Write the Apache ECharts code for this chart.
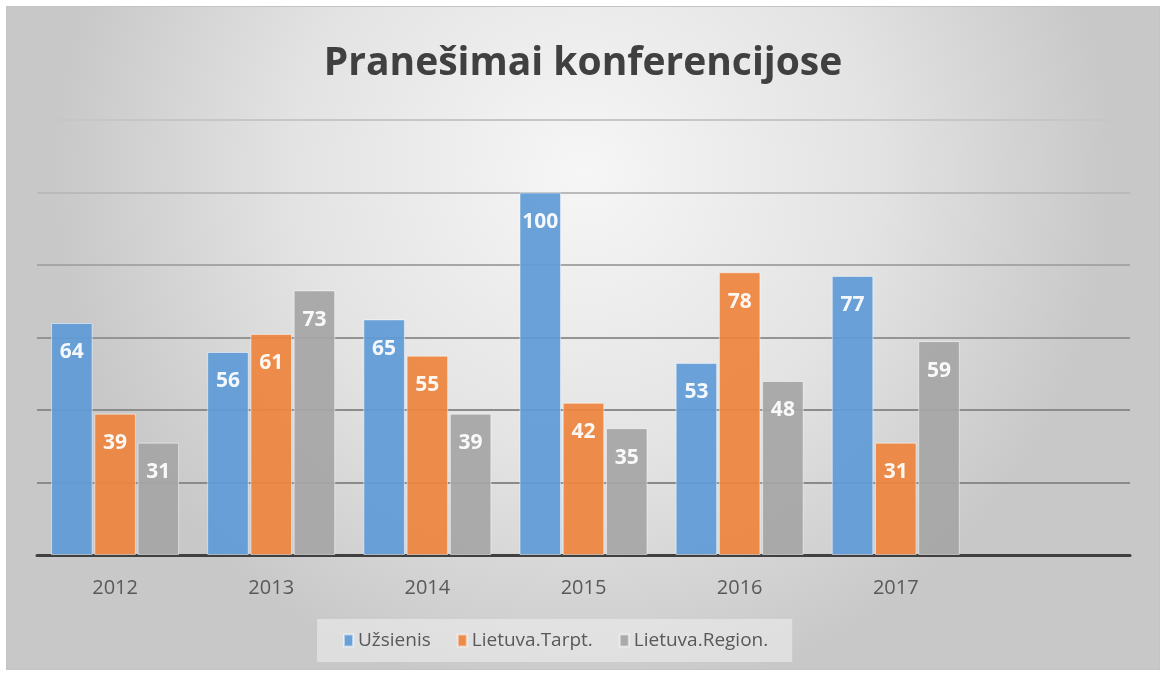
<!DOCTYPE html>
<html>
<head>
<meta charset="utf-8">
<script src="https://cdn.jsdelivr.net/npm/echarts@6/dist/echarts.min.js"></script>
<style>
	html, body { margin: 0; padding: 0; background: #ffffff; }
	#main {
		position: absolute;
		left: 6px;
		top: 6px;
		width: 1154px;
		height: 664px;
		box-sizing: border-box;
		border: 1px solid #c4c4c4;
	}
</style>
</head>
<body>
<div id="main"></div>
<script>
	// metai + tuščia vieta gale
	var years = ['2012', '2013', '2014', '2015', '2016', '2017'];
	var categories = years.concat(['']);

	var uzsienis = [64, 56, 65, 100, 53, 77];
	var lietuvaTarpt = [39, 61, 55, 42, 78, 31];
	var lietuvaRegion = [31, 73, 39, 35, 48, 59];

	var seriesNames = ['Užsienis', 'Lietuva.Tarpt.', 'Lietuva.Region.'];
	var seriesColors = ['#5f9bd6', '#ee8440', '#a6a6a6'];

	var chart = echarts.init(document.getElementById('main'));

	function barSeries(name, data, color) {
		return {
			name : name,
			type : 'bar',
			data : data,
			barGap : '4%',
			barCategoryGap : '18%',
			itemStyle : {
				color : color,
				opacity : 0.93,
				borderColor : 'rgba(255,255,255,0.55)',
				borderWidth : 1
			},
			label : {
				show : true,
				position : 'insideTop',
				distance : 19,
				color : '#ffffff',
				fontWeight : 'bold',
				fontSize : 21,
				fontFamily : 'Open Sans'
			}
		};
	}

	chart.setOption({
		backgroundColor : {
			type : 'radial',
			x : 0.5,
			y : 0.25,
			r : 0.8,
			colorStops : [
				{ offset : 0, color : '#f6f6f6' },
				{ offset : 0.55, color : '#e3e3e3' },
				{ offset : 1, color : '#c8c8c8' }
			]
		},
		title : {
			text : 'Pranešimai konferencijose',
			left : 'center',
			top : 32,
			textStyle : {
				fontFamily : 'Open Sans',
				fontWeight : 'bold',
				fontSize : 39,
				color : '#404040'
			}
		},
		legend : {
			data : seriesNames,
			left : 310,
			top : 612,
			padding : [12, 24, 12, 26],
			backgroundColor : 'rgba(240,240,240,0.55)',
			itemWidth : 9,
			itemHeight : 12,
			itemGap : 26,
			icon : 'rect',
			textStyle : {
				fontFamily : 'Open Sans',
				fontSize : 19,
				color : '#595959'
			}
		},
		grid : {
			left : 30,
			right : 29,
			top : 113,
			bottom : 114,
			containLabel : false
		},
		xAxis : {
			type : 'category',
			data : categories,
			axisLine : {
				lineStyle : { color : '#404040', width : 3 }
			},
			axisTick : { show : false },
			axisLabel : {
				margin : 23,
				fontFamily : 'Open Sans',
				fontSize : 20,
				color : '#595959'
			}
		},
		yAxis : {
			type : 'value',
			min : 0,
			max : 120,
			interval : 20,
			axisLine : { show : false },
			axisTick : { show : false },
			axisLabel : { show : false },
			splitLine : {
				lineStyle : {
					width : 2,
					color : ['#404040', '#8a8a8a', '#8c8c8c', '#949494', '#a6a6a6', '#bababa', '#c6c6c6']
				}
			}
		},
		series : [
			barSeries(seriesNames[0], uzsienis, seriesColors[0]),
			barSeries(seriesNames[1], lietuvaTarpt, seriesColors[1]),
			barSeries(seriesNames[2], lietuvaRegion, seriesColors[2])
		]
	});
</script>
</body>
</html>
